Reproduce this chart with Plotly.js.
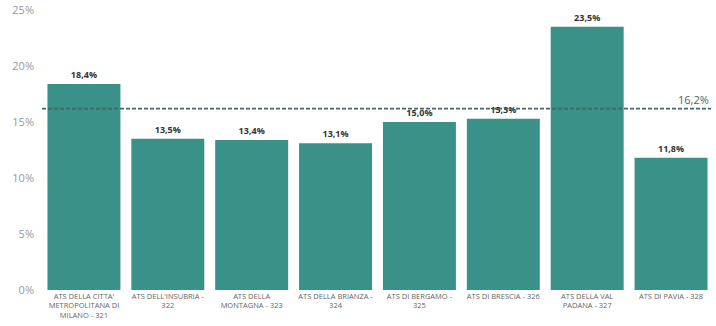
<!DOCTYPE html>
<html><head><meta charset="utf-8">
<script src="https://cdn.plot.ly/plotly-3.0.1.min.js"></script>
<style>html,body{margin:0;padding:0;background:#fff}#c{width:716px;height:326px}</style>
</head><body><div id="c"></div>
<script>
const categories = [
  "ATS DELLA CITTA'<br>METROPOLITANA DI<br>MILANO - 321",
  "ATS DELL'INSUBRIA -<br>322",
  "ATS DELLA<br>MONTAGNA - 323",
  "ATS DELLA BRIANZA -<br>324",
  "ATS DI BERGAMO -<br>325",
  "ATS DI BRESCIA - 326",
  "ATS DELLA VAL<br>PADANA - 327",
  "ATS DI PAVIA - 328"
];
const values = [18.4, 13.5, 13.4, 13.1, 15.0, 15.3, 23.5, 11.8];
const average = 16.2;
const yTicks = [0, 5, 10, 15, 20, 25];
const yTickText = ["0%", "5%", "10%", "15%", "20%", "25%"];

const trace = {
  type: 'bar', x: categories, y: values,
  marker: {color: '#3a9188'},
  texttemplate: '%{y:.1f}%', textposition: 'outside', cliponaxis: false,
  textfont: {family: 'Open Sans, sans-serif', size: 9, color: '#333', weight: 700},
  hoverinfo: 'none'
};
const layout = {
  width: 716, height: 326,
  margin: {l: 42, r: 3, t: 10, b: 36},
  separators: ',.',
  showlegend: false,
  bargap: 0.13,
  plot_bgcolor: '#fff', paper_bgcolor: '#fff',
  xaxis: {tickfont: {family: 'Open Sans, sans-serif', size: 7.5, color: '#666'}, showgrid: false, ticks: '', automargin: false},
  yaxis: {range: [0, 25], tickmode: 'array', tickvals: yTicks, ticktext: yTickText, showgrid: false, zeroline: false,
          tickfont: {family: 'Open Sans, sans-serif', size: 11, color: '#999'}, automargin: false, ticklabelstandoff: 7},
  shapes: [{type: 'line', xref: 'paper', yref: 'y', x0: 0, x1: 0.997, y0: average, y1: average,
            line: {color: '#3f6764', width: 1.8, dash: '4px,2px'}}],
  annotations: [{xref: 'paper', yref: 'y', x: 0.997, y: average, text: average.toFixed(1).replace('.', ',') + '%',
                 showarrow: false, xanchor: 'right', yanchor: 'bottom',
                 font: {family: 'Open Sans, sans-serif', size: 11, color: '#3f6764'}}]
};
Plotly.newPlot('c', [trace], layout, {displayModeBar: false, staticPlot: true});
</script></body></html>
